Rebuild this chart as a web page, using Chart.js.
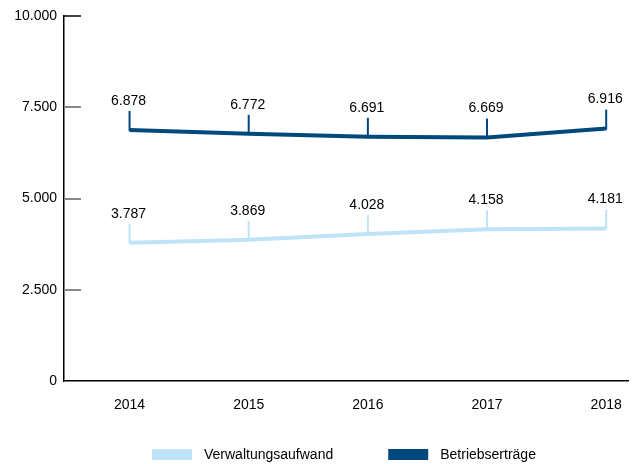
<!DOCTYPE html>
<html>
<head>
<meta charset="utf-8">
<script src="https://cdn.jsdelivr.net/npm/chart.js@4"></script>
<style>
  html, body { margin: 0; padding: 0; background: #fff; }
  #wrap { width: 638px; height: 464px; }
</style>
</head>
<body>
<div id="wrap"><canvas id="chart" width="638" height="464"></canvas></div>
<script>
const years = ["2014", "2015", "2016", "2017", "2018"];
const verwaltungsaufwand = [3787, 3869, 4028, 4158, 4181];
const betriebsertraege = [6878, 6772, 6691, 6669, 6916];
const yTicks = [0, 2500, 5000, 7500, 10000];

const FONT = "'Liberation Sans', Arial, sans-serif";
const LIGHT = "#bfe3f8";
const DARK = "#00497c";

// 6878 -> "6.878"
function fmt(n) {
  return String(Math.round(n)).replace(/\B(?=(\d{3})+(?!\d))/g, ".");
}

function points(values) {
  return values.map((v, i) => ({ x: Number(years[i]), y: v }));
}

const extras = {
  id: "extras",
  afterDraw(chart) {
    const ctx = chart.ctx;
    const area = chart.chartArea;
    const y = chart.scales.y;

    // short tick marks inside the plot
    yTicks.forEach(t => {
      if (t === 0) return;
      const py = Math.round(y.getPixelForValue(t));
      ctx.beginPath();
      ctx.strokeStyle = t === 10000 ? "#000" : "#888";
      ctx.lineWidth = t === 10000 ? 1.5 : 2;
      ctx.moveTo(area.left, py);
      ctx.lineTo(area.left + 17, py);
      ctx.stroke();
    });

    // value labels with small pointer lines
    ctx.font = "14px " + FONT;
    ctx.textAlign = "center";
    ctx.textBaseline = "bottom";
    chart.data.datasets.forEach((ds, di) => {
      const meta = chart.getDatasetMeta(di);
      meta.data.forEach((pt, i) => {
        ctx.beginPath();
        ctx.strokeStyle = ds.borderColor;
        ctx.lineWidth = 2;
        ctx.moveTo(pt.x, pt.y + 1);
        ctx.lineTo(pt.x, pt.y - 19);
        ctx.stroke();
        ctx.fillStyle = "#000";
        ctx.fillText(fmt(ds.data[i].y), pt.x - 1, pt.y - 22);
      });
    });

    // legend
    const gap = 55;
    const items = chart.data.datasets.map(ds => ({
      label: ds.label, color: ds.borderColor, w: 40 + 12 + ctx.measureText(ds.label).width
    }));
    const total = items.reduce((s, it) => s + it.w, 0) + gap * (items.length - 1);
    let lx = Math.round((area.left + area.right) / 2 - total / 2) - 2;
    const ly = 454;
    ctx.textAlign = "left";
    ctx.textBaseline = "middle";
    items.forEach(it => {
      ctx.fillStyle = it.color;
      ctx.fillRect(lx, ly - 5, 40, 11);
      ctx.fillStyle = "#000";
      ctx.fillText(it.label, lx + 52, ly + 1);
      lx += it.w + gap;
    });
  }
};

new Chart(document.getElementById("chart"), {
  type: "line",
  data: {
    datasets: [
      {
        label: "Verwaltungsaufwand",
        data: points(verwaltungsaufwand),
        borderColor: LIGHT,
        backgroundColor: LIGHT,
        borderWidth: 4,
        pointRadius: 0,
        tension: 0,
        fill: false
      },
      {
        label: "Betriebserträge",
        data: points(betriebsertraege),
        borderColor: DARK,
        backgroundColor: DARK,
        borderWidth: 4,
        pointRadius: 0,
        tension: 0,
        fill: false
      }
    ]
  },
  options: {
    responsive: false,
    animation: false,
    layout: { padding: { top: 16, right: 6, left: 0, bottom: 0 } },
    plugins: {
      legend: { display: false },
      tooltip: { enabled: false }
    },
    scales: {
      x: {
        type: "linear",
        min: 2013.45,
        max: 2018.19,
        afterBuildTicks: s => { s.ticks = years.map(v => ({ value: Number(v) })); },
        afterFit: s => { s.height = 83; },
        grid: { display: false, drawTicks: false },
        border: { color: "#000", width: 1.5 },
        ticks: {
          padding: 16,
          color: "#000",
          font: { size: 14, family: FONT },
          callback: v => String(v)
        }
      },
      y: {
        min: 0,
        max: 10000,
        afterBuildTicks: s => { s.ticks = yTicks.map(v => ({ value: v })); },
        afterFit: s => { s.width = 64; },
        grid: { display: false, drawTicks: false },
        border: { color: "#000", width: 1.5 },
        ticks: {
          padding: 7,
          color: "#000",
          font: { size: 14, family: FONT },
          callback: v => fmt(v)
        }
      }
    }
  },
  plugins: [extras]
});
</script>
</body>
</html>
